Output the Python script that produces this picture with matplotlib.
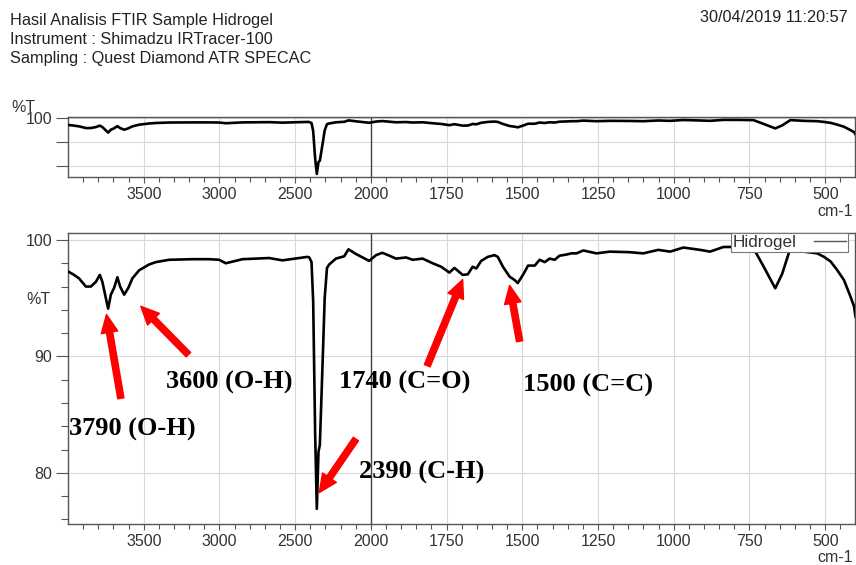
import matplotlib
matplotlib.use('Agg')
import matplotlib.pyplot as plt
import numpy as np
from matplotlib.ticker import FixedLocator, NullFormatter
from matplotlib.lines import Line2D

plt.rcParams['font.family'] = ['Liberation Sans', 'DejaVu Sans']

# spektrum hidrogel
wavenumber = [4000, 3960, 3927, 3882, 3849, 3816, 3790, 3773, 3750, 3735, 3717, 3695,
              3674, 3656, 3629, 3601, 3575, 3530, 3464, 3420, 3332, 3178, 3068, 3002,
              2958, 2848, 2672, 2584, 2419, 2407, 2392, 2381, 2368, 2357, 2346, 2337,
              2320, 2305, 2290, 2275, 2231, 2176, 2148, 2099, 2011, 1983, 1962, 1939,
              1917, 1884, 1862, 1829, 1796, 1768, 1741, 1724, 1697, 1680, 1664, 1652,
              1636, 1614, 1592, 1581, 1564, 1542, 1525, 1515, 1498, 1481, 1459, 1443,
              1426, 1410, 1393, 1377, 1354, 1338, 1321, 1299, 1255, 1211, 1145, 1101,
              1051, 1012, 968, 913, 880, 836, 791, 737, 703, 665, 642, 615, 571, 526,
              504, 482, 460, 438, 416, 405, 400]
transmit = [97.3, 97.0, 96.7, 96.0, 96.0, 96.4, 97.0, 96.4, 95.0, 94.1, 95.3, 95.9,
            96.8, 96.0, 95.3, 95.9, 96.7, 97.4, 97.9, 98.1, 98.3, 98.35, 98.35, 98.3,
            98.0, 98.35, 98.45, 98.25, 98.55, 98.5, 98.1, 94.7, 83.3, 76.9, 81.8, 82.4,
            89.0, 95.0, 97.6, 97.9, 98.4, 98.6, 99.2, 98.8, 98.2, 98.7, 98.9, 98.65,
            98.4, 98.5, 98.3, 98.4, 98.0, 97.7, 97.2, 97.6, 97.0, 97.05, 97.7, 97.55,
            98.2, 98.55, 98.7, 98.55, 97.7, 96.85, 96.55, 96.3, 97.0, 97.8, 97.8, 98.3,
            98.1, 98.4, 98.3, 98.65, 98.75, 98.85, 98.85, 99.1, 98.85, 99.0, 98.95, 98.85,
            99.15, 99.0, 99.35, 99.15, 99.0, 99.4, 99.4, 99.3, 97.7, 95.85, 97.1, 99.3, 99.0, 98.85,
            98.55, 98.15, 97.4, 96.55, 95.1, 94.3, 93.4]

xticks_major = [3500, 3000, 2500, 2000, 1750, 1500, 1250, 1000, 750, 500]
xticks_minor = list(range(3900, 2000, -100)) + list(range(1950, 400, -50))

# anotasi: teks, posisi teks, ujung panah, pangkal panah
labels = ['3790 (O-H)', '3600 (O-H)', '2390 (C-H)', '1740 (C=O)', '1500 (C=C)']
label_pos = [(3992, 83.7), (3352, 87.75), (2077, 80.0), (2209, 87.75), (1499, 87.5)]
arrow_tip = [(3746, 93.6), (3519, 94.3), (2341, 78.3), (1697, 96.6), (1542, 96.1)]
arrow_tail = [(3651, 86.4), (3205, 90.15), (2099, 82.9), (1814, 89.2), (1509, 91.3)]


def fwd(x):
    x = np.asarray(x, dtype=float)
    return np.where(x > 2000, 2000 + (x - 2000) / 2, x)


def inv(t):
    t = np.asarray(t, dtype=float)
    return np.where(t > 2000, 2000 + (t - 2000) * 2, t)


W, H = 856, 565
fig = plt.figure(figsize=(W / 100, H / 100), dpi=100)


def box(x0, y0, x1, y1):
    return [x0 / W, 1 - y1 / H, (x1 - x0) / W, (y1 - y0) / H]


ax_top = fig.add_axes(box(68, 117, 855.5, 177))
ax = fig.add_axes(box(68, 233, 855.5, 524))

for a in (ax_top, ax):
    a.set_xscale('function', functions=(fwd, inv))
    a.set_xlim(4000, 400)
    a.set_ylim(75.6, 100.6)
    a.plot(wavenumber, transmit, color='black', lw=1.9, zorder=3)
    a.xaxis.set_major_locator(FixedLocator(xticks_major))
    a.xaxis.set_minor_locator(FixedLocator(xticks_minor))
    a.set_xticklabels([str(v) for v in xticks_major])
    a.grid(True, which='major', color='#d8d8d8', lw=0.8, zorder=0)
    a.axvline(2000, color='#444444', lw=1.0, zorder=2)
    for s in a.spines.values():
        s.set_color('#555555')
        s.set_linewidth(1.0)
    a.tick_params(axis='x', which='major', length=4.5, width=0.8, color='#555555',
                  labelsize=11.5, labelcolor='#333333', pad=2.5)
    a.tick_params(axis='x', which='minor', length=3.5, width=0.8, color='#555555')
    a.tick_params(axis='y', which='major', length=8.5, width=0.8, color='#555555',
                  labelsize=11.5, labelcolor='#333333', pad=3)
    a.tick_params(axis='y', which='minor', length=5, width=0.8, color='#555555')

ax_top.yaxis.set_major_locator(FixedLocator([100, 90, 80]))
ax_top.set_yticklabels(['100', '', ''])

ax.yaxis.set_major_locator(FixedLocator([100, 90, 80]))
ax.yaxis.set_minor_locator(FixedLocator([98, 96, 94, 92, 88, 86, 84, 82, 78, 76]))
ax.yaxis.set_minor_formatter(NullFormatter())
ax.set_yticklabels(['100', '90', '80'])
ax.text(-0.037, 94.9, '%T', transform=ax.get_yaxis_transform(), ha='center', va='center',
        fontsize=11.5, color='#333333')

handle = Line2D([], [], color='#555555', lw=1.0)
leg = ax.legend([handle], ['Hidrogel'], loc='upper right', bbox_to_anchor=(0.991, 1.0),
                markerfirst=False, fontsize=12.3, handlelength=1.9, fancybox=False,
                borderpad=0.12, borderaxespad=0, handletextpad=1.0, framealpha=1)
leg.get_frame().set_edgecolor('#777777')
leg.get_frame().set_linewidth(0.8)
for t in leg.get_texts():
    t.set_color('#333333')

for txt, pos, tip, tail in zip(labels, label_pos, arrow_tip, arrow_tail):
    ax.annotate('', xy=tip, xytext=tail,
                arrowprops=dict(arrowstyle='simple,head_width=1.2,head_length=1.3,tail_width=0.45',
                                color='red', mutation_scale=10, shrinkA=0, shrinkB=0), zorder=5)
    ax.text(pos[0], pos[1], txt, fontfamily='Liberation Serif', fontweight='bold',
            fontsize=19, ha='left', va='center', zorder=6)

# header
fig.text(10 / W, 1 - 20 / H, 'Hasil Analisis FTIR Sample Hidrogel', fontsize=11.7, color='#222222', va='center')
fig.text(10 / W, 1 - 39.5 / H, 'Instrument : Shimadzu IRTracer-100', fontsize=11.7, color='#222222', va='center')
fig.text(10 / W, 1 - 59 / H, 'Sampling : Quest Diamond ATR SPECAC', fontsize=11.7, color='#222222', va='center')
fig.text(848 / W, 1 - 17 / H, '30/04/2019 11:20:57', fontsize=11.7, color='#222222', va='center', ha='right')
fig.text(11 / W, 1 - 107 / H, '%T', fontsize=11.5, color='#333333', va='center', ha='left')
fig.text(853 / W, 1 - 211 / H, 'cm-1', fontsize=11.5, color='#333333', va='center', ha='right')
fig.text(853 / W, 1 - 558 / H, 'cm-1', fontsize=11.5, color='#333333', va='center', ha='right')

fig.savefig('out.png', dpi=100)
